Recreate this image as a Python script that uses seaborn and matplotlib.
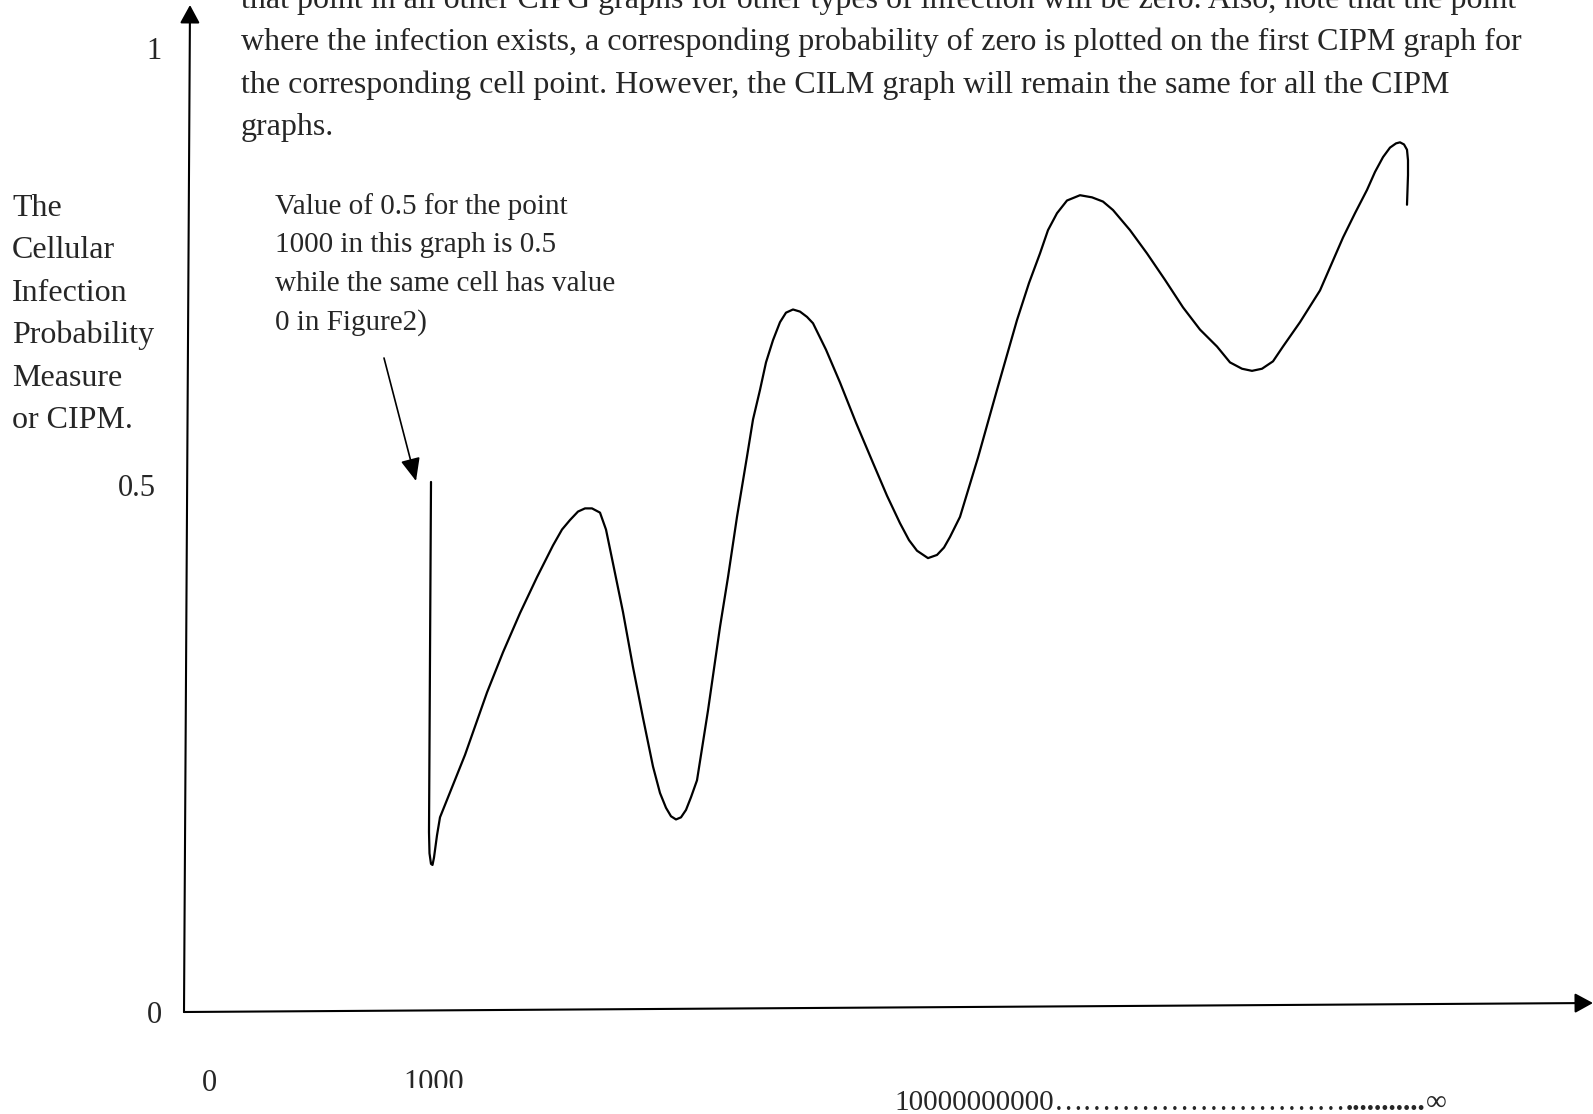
import matplotlib
matplotlib.use('Agg')
import matplotlib.pyplot as plt
import seaborn as sns
from matplotlib.transforms import Bbox, TransformedBbox

# horizontal position of each traced point (same units as the page width)
cell_pos = [431, 429, 429.5, 431, 432.5, 434, 437, 440,
            465, 487, 503, 520, 537, 553, 562, 570, 578, 585, 592, 600,
            606, 613, 623, 633, 643, 653, 660, 666, 671, 676, 681, 686, 691, 697, 708, 720,
            728, 737, 747, 753, 760, 766, 773, 780, 786, 793, 800, 807, 813, 826, 840, 856,
            873, 887, 900, 909, 917, 928, 937, 944, 950, 960, 978, 997,
            1017, 1029, 1040, 1048, 1057, 1067, 1080, 1092, 1103, 1113, 1130, 1147, 1165,
            1183, 1200, 1217, 1230, 1242, 1252, 1262, 1273, 1283, 1300, 1320, 1343, 1355,
            1367, 1375, 1383, 1390, 1396, 1400, 1404, 1407, 1408, 1408, 1407]
# cellular infection probability measure
cipm = [0.501, 0.170, 0.150, 0.140, 0.139, 0.146, 0.167, 0.184,
        0.243, 0.302, 0.340, 0.377, 0.411, 0.441, 0.456, 0.465, 0.473, 0.476, 0.476, 0.472,
        0.456, 0.424, 0.378, 0.326, 0.278, 0.232, 0.207, 0.193, 0.185, 0.182, 0.184, 0.191,
        0.203, 0.219, 0.285, 0.364,
        0.411, 0.468, 0.525, 0.560, 0.588, 0.614, 0.635, 0.652, 0.661, 0.664, 0.662, 0.657,
        0.651, 0.626, 0.595, 0.557, 0.519, 0.488, 0.462, 0.446, 0.436, 0.429, 0.432, 0.439,
        0.449, 0.468, 0.524, 0.588,
        0.654, 0.689, 0.717, 0.739, 0.755, 0.767, 0.772, 0.770, 0.766, 0.758, 0.739, 0.717,
        0.692, 0.666, 0.645, 0.629, 0.614, 0.608, 0.606, 0.608, 0.615, 0.629, 0.652, 0.682,
        0.732, 0.755, 0.777, 0.794, 0.808, 0.817, 0.821, 0.822, 0.820, 0.815, 0.805, 0.791,
        0.763]

y_ticks = ['1', '0.5', '0']
x_ticks = ['0', '1000']
x_far_parts = ['10000000000', '\u2026' * 10, '.' * 11, '\u221e']
y_title = ['The', 'Cellular', 'Infection', 'Probability', 'Measure', 'or CIPM.']
note = ['Value of 0.5 for the point', '1000 in this graph is 0.5',
        'while the same cell has value', '0 in Figure2)']
paragraph = [
    'that point in all other CIPG graphs for other types of infection will be zero. Also, note that the point',
    'where the infection exists, a corresponding probability of zero is plotted on the first CIPM graph for',
    'the corresponding cell point. However, the CILM graph will remain the same for all the CIPM',
    'graphs.',
]

W, H = 1593, 1114


def py(p):
    # page row (pixels from top) -> CIPM units
    return (1012 - p) / 1058


sns.set_style('white')
plt.rcParams['font.family'] = ['Liberation Serif', 'DejaVu Serif']

fig = plt.figure(figsize=(W / 100, H / 100), dpi=100)
ax = fig.add_axes([0, 0, 1, 1])
ax.set_xlim(0, W)
ax.set_ylim(py(H), py(0))
ax.axis('off')

sns.lineplot(x=cell_pos, y=cipm, sort=False, estimator=None, color='black',
             linewidth=1.6, ax=ax)

# axes drawn as arrows
axis_arrow = dict(arrowstyle='-|>,head_length=0.55,head_width=0.3', color='black',
                  lw=1.5, shrinkA=0, shrinkB=0, mutation_scale=20)
ax.annotate('', xy=(190, py(5)), xytext=(184, py(1012)), arrowprops=axis_arrow)
ax.annotate('', xy=(1593, py(1003)), xytext=(184, py(1012)), arrowprops=axis_arrow)

for lab, x, b in zip(y_ticks, [154, 137, 154], [59, 496, 1023]):
    ax.text(x, py(b), lab, ha='center', va='baseline', fontsize=22)

ax.text(209, py(1091), x_ticks[0], ha='center', va='baseline', fontsize=22)
t = ax.text(434, py(1091), x_ticks[1], ha='center', va='baseline', fontsize=22)
t.set_clip_box(TransformedBbox(Bbox([[0, py(1088)], [W, py(0)]]), ax.transData))
t.set_clip_on(True)

# far end of the x axis: digits, dots, infinity chained one after another
prev = ax.text(894, py(1110), x_far_parts[0], ha='left', va='baseline', fontsize=21)
for part, wt in zip(x_far_parts[1:], ['normal', 'bold', 'normal']):
    prev = ax.annotate(part, xy=(1, 0), xycoords=prev, ha='left', va='bottom',
                       fontsize=21, fontweight=wt)

for i, line in enumerate(y_title):
    ax.text(12, py(216 + 42.4 * i), line, ha='left', va='baseline', fontsize=23)

for i, line in enumerate(paragraph):
    ax.text(241, py(8 + 42.3 * i), line, ha='left', va='baseline', fontsize=23)

for i, line in enumerate(note):
    ax.text(275, py(214 + 38.5 * i), line, ha='left', va='baseline', fontsize=21)

ax.annotate('', xy=(416, py(481)), xytext=(384, py(358)),
            arrowprops=dict(arrowstyle='-|>,head_length=0.7,head_width=0.3', color='black',
                            lw=1.2, shrinkA=0, shrinkB=0, mutation_scale=20))

plt.savefig('out.png', dpi=100)
